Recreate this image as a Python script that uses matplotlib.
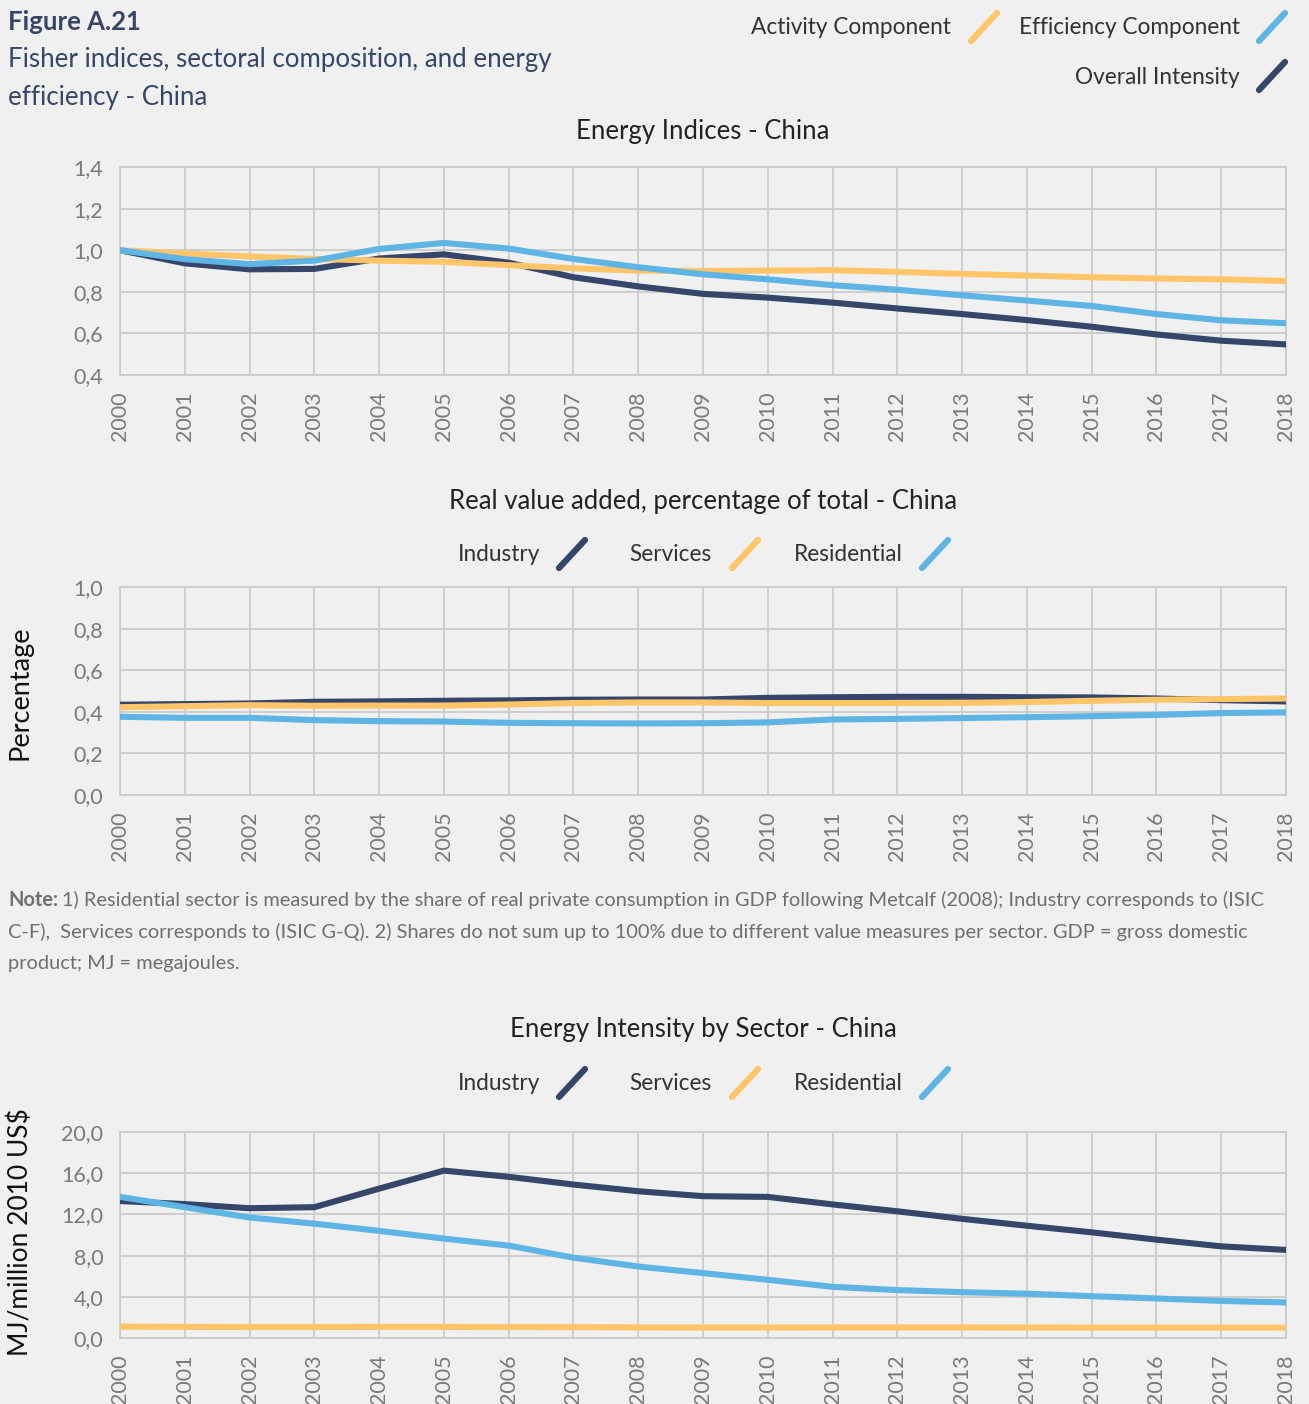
import matplotlib
matplotlib.use("Agg")
import matplotlib.pyplot as plt
from matplotlib.lines import Line2D
from matplotlib.ticker import FuncFormatter

# ---------------- data ----------------
years = list(range(2000, 2019))

# Energy indices (Fisher decomposition)
activity = [1.00, 0.984, 0.970, 0.958, 0.950, 0.944, 0.928, 0.913, 0.902, 0.900,
            0.902, 0.904, 0.896, 0.886, 0.878, 0.870, 0.864, 0.860, 0.852]
efficiency = [1.00, 0.957, 0.933, 0.950, 1.006, 1.035, 1.008, 0.958, 0.918, 0.884,
              0.860, 0.832, 0.810, 0.783, 0.758, 0.732, 0.693, 0.663, 0.649]
overall = [1.00, 0.937, 0.908, 0.910, 0.960, 0.980, 0.940, 0.870, 0.826, 0.790,
           0.772, 0.748, 0.720, 0.693, 0.664, 0.632, 0.595, 0.565, 0.547]

# Real value added, share of total
share_industry = [0.434, 0.437, 0.440, 0.448, 0.450, 0.453, 0.455, 0.458, 0.459, 0.459,
                  0.467, 0.470, 0.472, 0.472, 0.470, 0.469, 0.464, 0.456, 0.450]
share_services = [0.422, 0.427, 0.432, 0.429, 0.430, 0.430, 0.435, 0.442, 0.445, 0.445,
                  0.442, 0.442, 0.442, 0.443, 0.447, 0.453, 0.458, 0.461, 0.464]
share_residential = [0.376, 0.371, 0.371, 0.360, 0.355, 0.353, 0.347, 0.345, 0.344, 0.345,
                     0.349, 0.363, 0.366, 0.370, 0.374, 0.379, 0.385, 0.394, 0.397]

# Energy intensity by sector (MJ / million 2010 US$)
int_industry = [13.3, 13.0, 12.6, 12.7, 14.5, 16.25, 15.65, 14.9, 14.25, 13.77,
                13.7, 12.97, 12.3, 11.57, 10.9, 10.26, 9.55, 8.9, 8.55]
int_services = [1.10, 1.08, 1.07, 1.07, 1.08, 1.08, 1.06, 1.05, 1.03, 1.02,
                1.02, 1.03, 1.03, 1.03, 1.02, 1.01, 1.01, 1.01, 1.01]
int_residential = [13.7, 12.7, 11.7, 11.1, 10.4, 9.65, 8.97, 7.8, 6.94, 6.3,
                   5.65, 4.97, 4.65, 4.45, 4.3, 4.06, 3.84, 3.6, 3.45]

idx_ticks = [0.4, 0.6, 0.8, 1.0, 1.2, 1.4]
share_ticks = [0.0, 0.2, 0.4, 0.6, 0.8, 1.0]
int_ticks = [0.0, 4.0, 8.0, 12.0, 16.0, 20.0]

# ---------------- style ----------------
NAVY = "#35466a"
ORANGE = "#ffc568"
BLUE = "#5eb5e5"
BG = "#f0f0f0"
GRID = "#cbcbcb"
TICK = "#7a7a7a"
FONT = "Lato"

W, H = 1309, 1404
fig = plt.figure(figsize=(W / 100, H / 100), dpi=100, facecolor=BG)


def fx(px):
    return px / W


def fy(py):
    return 1 - py / H


comma_fmt = FuncFormatter(lambda v, _: f"{v:.1f}".replace(".", ","))


def make_axes(top_px, bottom_px, ticks, title, title_y):
    ax = fig.add_axes([fx(120), fy(bottom_px), fx(1286) - fx(120), (bottom_px - top_px) / H])
    ax.set_facecolor(BG)
    ax.set_xlim(2000, 2018)
    ax.set_ylim(ticks[0], ticks[-1])
    ax.set_xticks(years)
    ax.set_xticklabels([str(y) for y in years], rotation=90, fontsize=15.5,
                       color=TICK, family=FONT)
    ax.set_yticks(ticks)
    ax.yaxis.set_major_formatter(comma_fmt)
    for lab in ax.get_yticklabels():
        lab.set_fontsize(15.5)
        lab.set_color(TICK)
        lab.set_family(FONT)
    ax.tick_params(axis="both", length=0)
    ax.tick_params(axis="x", pad=12)
    ax.tick_params(axis="y", pad=12)
    ax.grid(True, color=GRID, linewidth=1.3)
    ax.set_axisbelow(True)
    for s in ax.spines.values():
        s.set_color(GRID)
        s.set_linewidth(1.3)
    fig.text(fx(703), fy(title_y), title, ha="center", va="center",
             fontsize=18.5, color="#222222", family=FONT)
    return ax


def slash(cx, cy, color):
    fig.add_artist(Line2D([fx(cx - 13), fx(cx + 13)], [fy(cy + 14), fy(cy - 14)],
                          transform=fig.transFigure, color=color, linewidth=4.5,
                          solid_capstyle="round"))


def legend_item(text, text_right, slash_x, y, color):
    fig.text(fx(text_right), fy(y), text, ha="right", va="center",
             fontsize=16.3, color="#333333", family=FONT)
    slash(slash_x, y - 1, color)


LW = 4.4

# ---------------- header ----------------
fig.text(fx(8), fy(22), "Figure A.21", ha="left", va="center", fontsize=18.5,
         fontweight="bold", color=NAVY, family=FONT)
fig.text(fx(8), fy(60), "Fisher indices, sectoral composition, and energy",
         ha="left", va="center", fontsize=18.6, color=NAVY, family=FONT)
fig.text(fx(8), fy(97), "efficiency - China",
         ha="left", va="center", fontsize=18.6, color=NAVY, family=FONT)

legend_item("Activity Component", 951, 984, 28, ORANGE)
legend_item("Efficiency Component", 1240, 1272, 28, BLUE)
legend_item("Overall Intensity", 1240, 1272, 77, NAVY)

# ---------------- panel 1: energy indices ----------------
ax1 = make_axes(167, 375, idx_ticks, "Energy Indices - China", 131)
ax1.plot(years, overall, color=NAVY, lw=LW, solid_capstyle="round", zorder=3)
ax1.plot(years, activity, color=ORANGE, lw=LW, solid_capstyle="round", zorder=4)
ax1.plot(years, efficiency, color=BLUE, lw=LW, solid_capstyle="round", zorder=5)

# ---------------- panel 2: value added shares ----------------
ax2 = make_axes(587, 795, share_ticks,
                "Real value added, percentage of total - China", 501)
ax2.plot(years, share_industry, color=NAVY, lw=LW, solid_capstyle="round", zorder=3)
ax2.plot(years, share_services, color=ORANGE, lw=LW, solid_capstyle="round", zorder=4)
ax2.plot(years, share_residential, color=BLUE, lw=LW, solid_capstyle="round", zorder=5)
fig.text(fx(20), fy(693), "Percentage", rotation=90, ha="center", va="center",
         fontsize=19.5, color="#111111", family=FONT)

legend_item("Industry", 540, 572, 555, NAVY)
legend_item("Services", 712, 745, 555, ORANGE)
legend_item("Residential", 903, 935, 555, BLUE)

# ---------------- note ----------------
note_fs = 14.4
note_color = "#6f6f6f"
nb = fig.text(fx(8), fy(900), "Note:", ha="left", va="center", fontsize=note_fs,
              fontweight="bold", color=note_color, family=FONT)
fig.canvas.draw()
nb_w = nb.get_window_extent(fig.canvas.get_renderer()).width
fig.text(fx(8 + nb_w + 4), fy(900),
         "1) Residential sector is measured by the share of real private consumption in GDP "
         "following Metcalf (2008); Industry corresponds to (ISIC",
         ha="left", va="center", fontsize=note_fs, color=note_color, family=FONT)
fig.text(fx(8), fy(932),
         "C-F),  Services corresponds to (ISIC G-Q). 2) Shares do not sum up to 100% due to "
         "different value measures per sector. GDP = gross domestic",
         ha="left", va="center", fontsize=note_fs, color=note_color, family=FONT)
fig.text(fx(8), fy(964), "product; MJ = megajoules.",
         ha="left", va="center", fontsize=note_fs, color=note_color, family=FONT)

# ---------------- panel 3: energy intensity ----------------
ax3 = make_axes(1132, 1338, int_ticks, "Energy Intensity by Sector - China", 1030)
ax3.plot(years, int_industry, color=NAVY, lw=LW, solid_capstyle="round", zorder=3)
ax3.plot(years, int_services, color=ORANGE, lw=LW, solid_capstyle="round", zorder=4)
ax3.plot(years, int_residential, color=BLUE, lw=LW, solid_capstyle="round", zorder=5)
fig.text(fx(20), fy(1232), "MJ/million 2010 US$", rotation=90, ha="center", va="center",
         fontsize=19, color="#111111", family=FONT)

legend_item("Industry", 540, 572, 1084, NAVY)
legend_item("Services", 712, 745, 1084, ORANGE)
legend_item("Residential", 903, 935, 1084, BLUE)

fig.savefig("out.png", dpi=100, facecolor=BG)
